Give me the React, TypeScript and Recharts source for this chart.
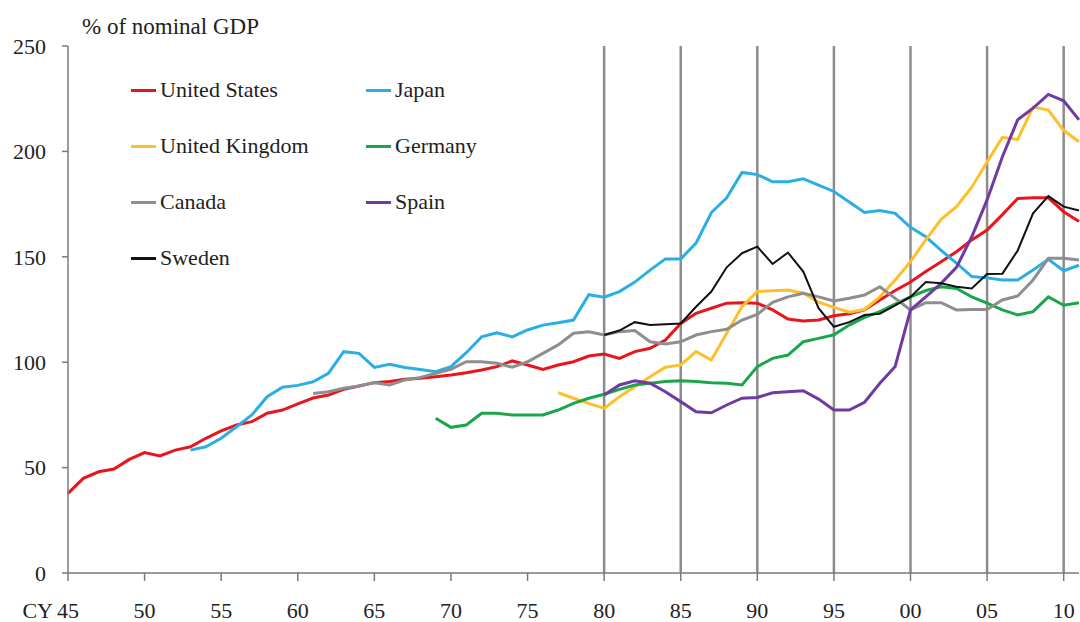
import { LineChart, Line, XAxis, YAxis, ReferenceLine, Legend } from 'recharts';

const FIRST_YEAR = 1945;
const LAST_YEAR = 2011;

const xTicks = [1945, 1950, 1955, 1960, 1965, 1970, 1975, 1980, 1985, 1990, 1995, 2000, 2005, 2010];
const yTicks = [0, 50, 100, 150, 200, 250];
const markerYears = [1980, 1985, 1990, 1995, 2000, 2005, 2010];

// each series runs from its start year through 2011
const usStart = 1945;
const usDebt = [
    37.8, 44.9, 48, 49.3, 53.9, 57.1, 55.5, 58.3, 59.9, 63.9,
    67.4, 70.2, 71.8, 75.8, 77.3, 80.2, 83, 84.4, 87.1, 88.7,
    90.3, 90.8, 91.9, 92.4, 93.1, 93.9, 95, 96.3, 97.9, 100.6,
    98.7, 96.6, 98.7, 100.2, 102.9, 103.9, 101.8, 105, 106.6, 110.5,
    118.4, 123.2, 125.6, 128, 128.2, 128, 124.8, 120.5, 119.5, 120,
    122, 123, 124.8, 129.5, 134, 138, 143, 147.7, 152.4, 158,
    162.7, 170, 177.7, 178, 178, 171.4, 166.7,
];

const japanStart = 1953;
const japanDebt = [
    58.3, 59.9, 63.9, 69.4, 75, 83.6, 88.1,
    89, 90.7, 94.7, 105, 104.2, 97.5, 99, 97.5, 96.5, 95.5,
    97.9, 104.5, 112, 114, 112, 115.3, 117.6, 118.7, 120, 132,
    130.8, 133.5, 138, 143.7, 149, 149, 156.5, 171, 178, 190,
    189, 185.6, 185.6, 187, 184, 181, 176, 171, 172, 170.6,
    164, 159.5, 153, 147, 140.6, 140, 139, 139, 143.7, 148.8,
    143.4, 146,
];

const ukStart = 1977;
const ukDebt = [
    85.5, 82.9, 80.5,
    78.1, 83.6, 88.4, 93.1, 97.6, 98.7, 105, 101, 113.7, 126.3,
    133.5, 133.9, 134.2, 132.7, 128.5, 126, 123.7, 125, 131, 139,
    147.7, 158, 167.8, 173.8, 183, 195, 206.7, 205.7, 221, 219.6,
    210, 204.6,
];

const germanyStart = 1969;
const germanyDebt = [
    73.4,
    69.1, 70.2, 75.8, 75.8, 75, 75, 75, 77.3, 80.5, 82.9,
    84.8, 87.1, 89.2, 90, 90.8, 91.2, 90.8, 90.3, 90, 89.2,
    97.9, 101.8, 103.4, 109.7, 111.3, 113, 117.6, 121.3, 124, 127.6,
    131, 134, 135.8, 135, 131, 128, 124.8, 122.4, 124, 131,
    127, 128.2,
];

const canadaStart = 1961;
const canadaDebt = [
    85.2, 86, 87.6, 88.7, 90.3, 89.2, 91.6, 92.8, 94.7,
    96.6, 100.2, 100.2, 99.5, 97.6, 100.2, 104.2, 108.2, 113.7, 114.4,
    112.9, 114.5, 115, 109.7, 108.6, 109.7, 112.9, 114.5, 115.6, 120,
    122.7, 128.4, 131, 132.7, 131, 129, 130.3, 131.9, 135.8, 130.3,
    124.8, 128.2, 128.2, 124.8, 125, 125, 129.5, 131.4, 139, 149.3,
    149.3, 148.5,
];

const spainStart = 1980;
const spainDebt = [
    84.4, 89.2, 91.2, 90, 86, 81.3, 76.5, 76, 79.7, 82.9,
    83.3, 85.5, 86, 86.5, 82.5, 77.3, 77.3, 81, 90, 98,
    124.8, 131, 137.4, 145, 159.5, 177, 197.5, 215, 220.5, 227,
    224, 215,
];

const swedenStart = 1980;
const swedenDebt = [
    112.9, 115, 119, 117.6, 118, 118.4, 126.3, 133.5, 145, 151.7,
    154.8, 146.6, 152, 143, 125.6, 116.8, 119, 122.4, 123, 127,
    131, 138, 137.4, 135.8, 135, 141.8, 142, 153, 170.6, 178.8,
    173.8, 172,
];

const series = [
    { name: 'United States', start: usStart, values: usDebt, color: '#e8161c', width: 3 },
    { name: 'Japan', start: japanStart, values: japanDebt, color: '#2aaee4', width: 3 },
    { name: 'United Kingdom', start: ukStart, values: ukDebt, color: '#fdc02a', width: 3 },
    { name: 'Germany', start: germanyStart, values: germanyDebt, color: '#1ba64c', width: 3 },
    { name: 'Canada', start: canadaStart, values: canadaDebt, color: '#8e8e8e', width: 3 },
    { name: 'Spain', start: spainStart, values: spainDebt, color: '#6f3ba3', width: 3 },
    { name: 'Sweden', start: swedenStart, values: swedenDebt, color: '#111111', width: 2 },
];

const data: any[] = [];
for (let yr = FIRST_YEAR; yr <= LAST_YEAR; yr++) {
    const row: any = { year: yr };
    series.forEach(s => {
        const i = yr - s.start;
        row[s.name] = i >= 0 && i < s.values.length ? s.values[i] : null;
    });
    data.push(row);
}

const FONT = 'Liberation Serif, Tinos, Times New Roman, serif';

const YearTick = (props: any) => {
    const { x, y, payload } = props;
    const label = String(payload.value % 100).padStart(2, '0');
    return (
        <g>
            {payload.value === FIRST_YEAR && (
                <text x={x - 15} y={y} dy="0.71em" textAnchor="end" fontSize={22} fontFamily={FONT} fill="#222">CY</text>
            )}
            <text x={x} y={y} dy="0.71em" textAnchor="middle" fontSize={22} fontFamily={FONT} fill="#222">{label}</text>
        </g>
    );
};

const renderLegend = () => (
    <div style={{ display: 'grid', gridTemplateColumns: '235px 160px', fontFamily: FONT, fontSize: 22, color: '#222' }}>
        {series.map(s => (
            <div key={s.name} style={{ display: 'flex', alignItems: 'center', height: 56, whiteSpace: 'nowrap' }}>
                <span style={{ display: 'inline-block', width: 25, height: 3, background: s.color, marginRight: 4 }} />
                <span>{s.name}</span>
            </div>
        ))}
    </div>
);

export default function App() {
    return (
        <div style={{ position: 'absolute', left: 0, top: 0, width: 1080, height: 622, background: '#fff', fontFamily: FONT }}>
            <LineChart width={1080} height={622} data={data} margin={{ top: 46, right: 1, bottom: 19, left: 8 }}>
                <XAxis
                    dataKey="year"
                    type="number"
                    domain={[FIRST_YEAR, LAST_YEAR]}
                    ticks={xTicks}
                    tick={<YearTick />}
                    tickSize={8}
                    tickMargin={21}
                    height={30}
                    stroke="#7a7a7a"
                    strokeWidth={1.5}
                    allowDecimals={false}
                />
                <YAxis
                    domain={[0, 250]}
                    ticks={yTicks}
                    width={60}
                    tickSize={6}
                    tickMargin={16}
                    stroke="#7a7a7a"
                    strokeWidth={1.5}
                    tick={{ fontSize: 22, fontFamily: FONT, fill: '#222' }}
                />
                {markerYears.map(yr => (
                    <ReferenceLine key={yr} x={yr} stroke="#8c8c8c" strokeWidth={2.5} />
                ))}
                <Legend
                    content={renderLegend}
                    layout="horizontal"
                    verticalAlign="middle"
                    align="center"
                    wrapperStyle={{ position: 'absolute', left: 131, top: 62, width: 420 }}
                />
                {series.map(s => (
                    <Line
                        key={s.name}
                        type="linear"
                        dataKey={s.name}
                        stroke={s.color}
                        strokeWidth={s.width}
                        dot={false}
                        activeDot={false}
                        isAnimationActive={false}
                    />
                ))}
                <text x={82} y={34} fontSize={23} fontFamily={FONT} fill="#222">% of nominal GDP</text>
            </LineChart>
        </div>
    );
}
